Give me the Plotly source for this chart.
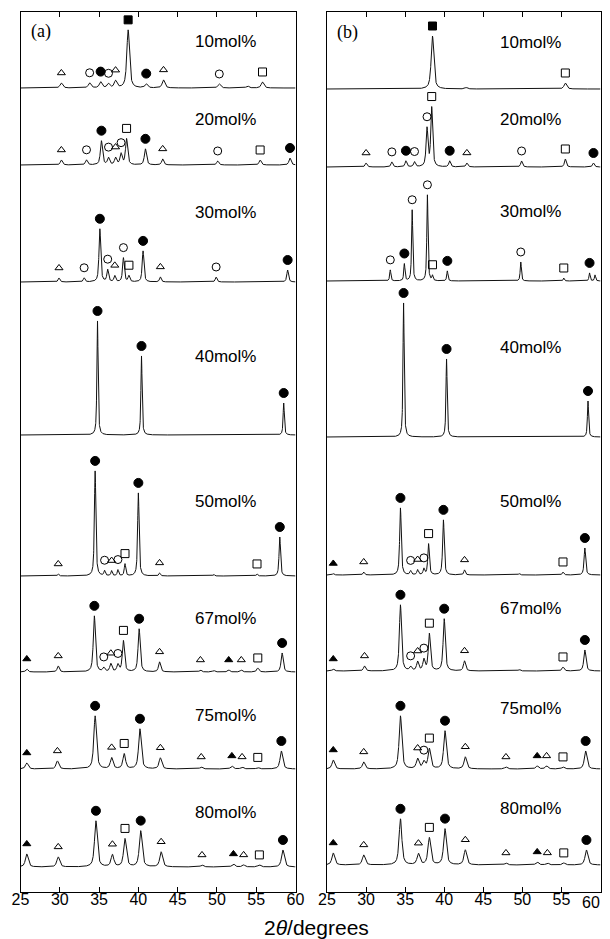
import numpy as np
import plotly.graph_objects as go

# ---------------- data ----------------
two_theta_ticks = [25, 30, 35, 40, 45, 50, 55, 60]
tick_labels = ["25", "30", "35", "40", "45", "50", "55", "60"]
compositions = ["10mol%", "20mol%", "30mol%", "40mol%", "50mol%", "67mol%", "75mol%", "80mol%"]

# stacking offsets of each pattern (baseline level, arbitrary intensity units)
offsets_a = [804, 727, 610, 457, 316, 220, 123, 25]
offsets_b = [803, 725, 611, 455, 317, 221, 123, 27]

# peak lists: (2theta / deg, intensity, phase)
# phase: S = filled square, C = filled circle, o = open circle,
#        t = open triangle, T = filled triangle, s = open square, "" = unmarked
a_10 = [(30.2, 5, "t"), (33.8, 5, "o"), (35.2, 6, "C"), (36.2, 4, "o"), (37.1, 7, "t"),
        (38.7, 58, "S"), (41.0, 4, "C"), (43.2, 8, "t"), (50.3, 4, "o"), (53.9, 2, ""),
        (55.8, 6, "s")]
a_20 = [(30.2, 5, "t"), (33.4, 5, "o"), (35.3, 24, "C"), (36.2, 7, "o"), (37.1, 7, "t"),
        (37.8, 11, "o"), (38.5, 26, "s"), (40.9, 16, "C"), (43.1, 6, "t"), (50.1, 4, "o"),
        (55.5, 5, "s"), (59.3, 7, "C")]
a_30 = [(29.9, 4, "t"), (33.1, 4, "o"), (35.1, 53, "C"), (36.1, 12, "o"), (37.0, 6, "t"),
        (38.1, 24, "o"), (38.8, 6, "s"), (40.6, 31, "C"), (42.8, 5, "t"), (49.9, 5, "o"),
        (59.0, 12, "C")]
a_40 = [(34.8, 114, "C"), (40.4, 79, "C"), (58.5, 32, "C")]
a_50 = [(29.8, 2, "t"), (34.5, 105, "C"), (35.7, 5, "o"), (36.6, 5, "t"), (37.4, 6, "o"),
        (38.3, 12, "s"), (40.0, 83, "C"), (42.7, 3, "t"), (49.6, 1.5, ""), (55.1, 2, "s"),
        (58.0, 39, "C")]
a_67 = [(25.8, 3, "T"), (29.8, 6, "t"), (34.4, 56, "C"), (35.6, 4, "o"), (36.5, 8, "t"),
        (37.4, 7, "o"), (38.1, 31, "s"), (40.1, 43, "C"), (42.7, 10, "t"), (47.9, 2, "t"),
        (49.6, 1.5, ""), (51.5, 2, "T"), (53.1, 2, "t"), (55.2, 4, "s"), (58.3, 19, "C")]
a_75 = [(25.8, 6, "T"), (29.7, 8, "t"), (34.5, 53, "C"), (36.6, 11, "t"), (38.2, 15, "s"),
        (40.2, 40, "C"), (42.8, 11, "t"), (48.0, 2, "t"), (51.9, 3, "T"), (53.2, 2, "t"),
        (55.2, 1.5, "s"), (58.2, 18, "C")]
a_80 = [(25.8, 13, "T"), (29.8, 10, "t"), (34.6, 46, "C"), (36.7, 12, "t"), (38.3, 28, "s"),
        (40.3, 36, "C"), (42.9, 15, "t"), (48.1, 2, "t"), (52.1, 3, "T"), (53.4, 2, "t"),
        (55.4, 2, "s"), (58.4, 17, "C")]

b_10 = [(38.5, 53, "S"), (42.8, 1.5, ""), (55.5, 6, "s")]
b_20 = [(30.0, 4, "t"), (33.3, 5, "o"), (35.1, 6, "C"), (36.2, 5, "o"), (37.8, 38, "o"),
        (38.4, 59, "s"), (40.7, 6, "C"), (42.9, 4, "t"), (49.9, 6, "o"), (55.5, 8, "s"),
        (59.1, 4, "C")]
b_30 = [(33.1, 11, "o"), (34.9, 17, "C"), (35.9, 71, "o"), (37.85, 86, "o"), (38.5, 5, "s"),
        (40.4, 10, "C"), (49.8, 19, "o"), (55.3, 3, "s"), (58.6, 8, "C"), (59.3, 6, "")]
b_40 = [(34.8, 134, "C"), (40.3, 78, "C"), (58.4, 36, "C")]
b_50 = [(25.8, 1.5, "T"), (29.7, 3, "t"), (34.4, 67, "C"), (35.7, 4, "o"), (36.6, 5, "t"),
        (37.4, 6, "o"), (38.0, 31, "s"), (39.9, 55, "C"), (42.6, 5, "t"), (49.6, 1.5, ""),
        (55.2, 3, "s"), (58.0, 27, "C")]
b_67 = [(25.8, 2, "T"), (29.8, 5, "t"), (34.4, 66, "C"), (35.7, 4, "o"), (36.6, 9, "t"),
        (37.4, 11, "o"), (38.1, 37, "s"), (40.0, 52, "C"), (42.6, 10, "t"), (49.6, 1.5, ""),
        (55.2, 4, "s"), (58.0, 21, "C")]
b_75 = [(25.8, 9, "T"), (29.7, 7, "t"), (34.4, 53, "C"), (36.6, 10, "t"), (37.4, 7, "o"),
        (38.1, 20, "s"), (40.1, 38, "C"), (42.7, 12, "t"), (47.9, 2, "t"), (51.9, 3, "T"),
        (53.1, 3, "t"), (55.2, 2, "s"), (58.1, 18, "C")]
b_80 = [(25.8, 12, "T"), (29.7, 10, "t"), (34.4, 46, "C"), (36.7, 11, "t"), (38.1, 27, "s"),
        (40.1, 36, "C"), (42.7, 15, "t"), (47.9, 2, "t"), (51.9, 3, "T"), (53.2, 2, "t"),
        (55.3, 2, "s"), (58.2, 15, "C")]

patterns_a = [a_10, a_20, a_30, a_40, a_50, a_67, a_75, a_80]
patterns_b = [b_10, b_20, b_30, b_40, b_50, b_67, b_75, b_80]

# ---------------- styling / layout ----------------
widths_a = [0.2, 0.16, 0.13, 0.09, 0.11, 0.16, 0.2, 0.21]
widths_b = [0.2, 0.14, 0.09, 0.09, 0.12, 0.16, 0.2, 0.21]
label_y_a = [850, 772, 679, 535, 390, 274, 177, 80]
label_y_b = [849, 772, 680, 544, 390, 284, 184, 84]
ETA = 0.72  # Lorentzian fraction of the peak shape

symbols = {
    "S": dict(symbol="square", size=8, color="black"),
    "C": dict(symbol="circle", size=9, color="black"),
    "o": dict(symbol="circle-open", size=8, color="black"),
    "t": dict(symbol="triangle-up-open", size=7, color="black"),
    "T": dict(symbol="triangle-up", size=7, color="black"),
    "s": dict(symbol="square-open", size=8, color="black"),
}

# the page body has an 8 px margin; positions below are given in window pixels
W, H = 602, 931
PAD = 8


def px_x(px):
    return (px - PAD) / W


def px_y(py):
    return 1 - (py - PAD) / H


grid = np.round(np.arange(25.0, 60.0001, 0.01), 3)


def profile(peaks, w, x):
    x = np.asarray(x, dtype=float)
    y = np.zeros_like(x)
    for pos, h, _ in peaks:
        d = (x - pos) / w
        y += h * (ETA / (1 + d ** 2) + (1 - ETA) * np.exp(-np.log(2) * d ** 2))
    return y


fig = go.Figure()
annotations = []

for panel, (patterns, offsets, widths, label_y, xa, ya) in enumerate([
        (patterns_a, offsets_a, widths_a, label_y_a, "x", "y"),
        (patterns_b, offsets_b, widths_b, label_y_b, "x2", "y2")]):
    marks = {k: ([], []) for k in symbols}
    for peaks, off, w, ly, comp in zip(patterns, offsets, widths, label_y, compositions):
        fig.add_trace(go.Scatter(x=grid, y=off + profile(peaks, w, grid), mode="lines",
                                 line=dict(color="#111111", width=1), xaxis=xa, yaxis=ya,
                                 hoverinfo="skip"))
        for pos, h, ph in peaks:
            if ph:
                top = off + profile(peaks, w, [pos])[0]
                marks[ph][0].append(pos)
                marks[ph][1].append(top + 10)
        annotations.append(dict(x=51.1, y=ly, xref=xa, yref=ya, text=comp, showarrow=False,
                                font=dict(family="Liberation Sans", size=17, color="black"),
                                xanchor="center", yanchor="middle"))
    for ph, (xs, ys) in marks.items():
        st = symbols[ph]
        fig.add_trace(go.Scatter(x=xs, y=ys, mode="markers", xaxis=xa, yaxis=ya,
                                 cliponaxis=False,
                                 marker=dict(symbol=st["symbol"], size=st["size"],
                                             color=st["color"], line=dict(width=1, color="black")),
                                 hoverinfo="skip"))

annotations.append(dict(x=27.6, y=860, xref="x", yref="y", text="(a)", showarrow=False,
                        font=dict(family="Liberation Serif", size=18, color="black")))
annotations.append(dict(x=27.6, y=859, xref="x2", yref="y2", text="(b)", showarrow=False,
                        font=dict(family="Liberation Serif", size=18, color="black")))
annotations.append(dict(x=px_x(316), y=px_y(927), xref="paper", yref="paper",
                        text="2<i>θ</i>/degrees", showarrow=False, xanchor="center",
                        yanchor="middle",
                        font=dict(family="Liberation Sans", size=21, color="black")))
# last tick label of panel (b) sits at the window edge: right-align it so it stays visible
annotations.append(dict(x=px_x(601.5), y=px_y(902), xref="paper", yref="paper",
                        text=tick_labels[-1], showarrow=False, xanchor="right",
                        yanchor="middle",
                        font=dict(family="Liberation Sans", size=16, color="black")))

xaxis_common = dict(range=[25, 60], tickvals=two_theta_ticks, ticks="inside", ticklen=5,
                    tickcolor="black", tickwidth=1, showline=True, linecolor="black",
                    linewidth=1, mirror="ticks", showgrid=False, zeroline=False,
                    tickfont=dict(family="Liberation Sans", size=16, color="black"),
                    ticklabeloverflow="allow", ticklabelstandoff=-7, automargin=False)
yaxis_common = dict(range=[0, 880], showticklabels=False, ticks="", showline=True,
                    linecolor="black", linewidth=1, mirror=True, showgrid=False,
                    zeroline=False, automargin=False,
                    domain=[px_y(892), px_y(12)])

fig.update_layout(
    width=W, height=H,
    margin=dict(l=0, r=0, t=0, b=0),
    paper_bgcolor="white", plot_bgcolor="white",
    showlegend=False,
    xaxis=dict(domain=[px_x(20.5), px_x(295.5)], anchor="y", ticktext=tick_labels,
               **xaxis_common),
    xaxis2=dict(domain=[px_x(327), px_x(600.5)], anchor="y2",
                ticktext=tick_labels[:-1] + [""], **xaxis_common),
    yaxis=dict(anchor="x", **yaxis_common),
    yaxis2=dict(anchor="x2", **yaxis_common),
    annotations=annotations,
)

fig.write_html("out.html")
